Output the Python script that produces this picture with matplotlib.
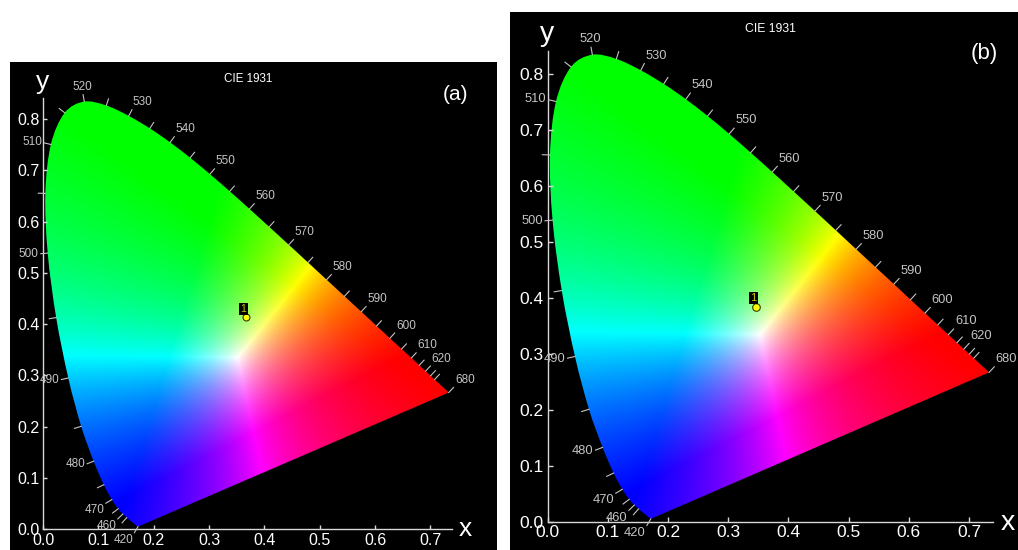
''' CIE 1931 chromaticity diagrams for the two samples.
'''
import numpy as np
import matplotlib
matplotlib.use('Agg')
import matplotlib.pyplot as plt
from matplotlib.path import Path
from matplotlib.patches import PathPatch

plt.rcParams['font.family'] = ['Liberation Sans', 'DejaVu Sans']

# CIE 1931 2 degree spectral locus, 420-680 nm in 5 nm steps
wavelengths = list(range(420, 685, 5))
locus_x = [0.1714, 0.1703, 0.1689, 0.1669, 0.1644, 0.1611, 0.1566, 0.1510,
           0.1440, 0.1355, 0.1241, 0.1096, 0.0913, 0.0687, 0.0454, 0.0235,
           0.0082, 0.0039, 0.0139, 0.0389, 0.0743, 0.1142, 0.1547, 0.1929,
           0.2296, 0.2658, 0.3016, 0.3373, 0.3731, 0.4087, 0.4441, 0.4788,
           0.5125, 0.5448, 0.5752, 0.6029, 0.6270, 0.6482, 0.6658, 0.6801,
           0.6915, 0.7006, 0.7079, 0.7140, 0.7190, 0.7230, 0.7260, 0.7283,
           0.7300, 0.7311, 0.7320, 0.7327, 0.7334]
locus_y = [0.0051, 0.0058, 0.0069, 0.0086, 0.0109, 0.0138, 0.0177, 0.0227,
           0.0297, 0.0399, 0.0578, 0.0868, 0.1327, 0.2007, 0.2950, 0.4127,
           0.5384, 0.6548, 0.7502, 0.8120, 0.8338, 0.8262, 0.8059, 0.7816,
           0.7543, 0.7243, 0.6923, 0.6589, 0.6245, 0.5896, 0.5547, 0.5202,
           0.4866, 0.4544, 0.4242, 0.3965, 0.3725, 0.3514, 0.3340, 0.3197,
           0.3083, 0.2993, 0.2920, 0.2859, 0.2809, 0.2770, 0.2740, 0.2717,
           0.2700, 0.2689, 0.2680, 0.2673, 0.2666]

labelled_nm = [420, 460, 470, 480, 490, 500, 510, 520, 530, 540, 550, 560,
               570, 580, 590, 600, 610, 620, 680]
ticked_nm = [420] + list(range(455, 635, 5)) + [680]

# sample chromaticity per panel
panel_names = ['(a)', '(b)']
sample_x = [0.366, 0.346]
sample_y = [0.413, 0.383]

xticks = [0.0, 0.1, 0.2, 0.3, 0.4, 0.5, 0.6, 0.7]
yticks = [0.0, 0.1, 0.2, 0.3, 0.4, 0.5, 0.6, 0.7, 0.8]

GREY = '#c4c4c4'


def gamut_image(nx=700, ny=700, white=(0.352, 0.334)):
    ''' RGB image of the chromaticity plane, brightest possible colour per point.
    '''
    prim = np.array([[0.64, 0.30, 0.15], [0.33, 0.60, 0.06]])
    P = np.vstack([prim, 1 - prim.sum(0)])
    w = np.array([white[0], white[1], 1 - white[0] - white[1]]) / white[1]
    M = P * np.linalg.solve(P, w)
    Minv = np.linalg.inv(M)

    xx, yy = np.meshgrid(np.linspace(0, 0.75, nx), np.linspace(0, 0.85, ny))
    xyz = np.stack([xx, yy, 1 - xx - yy], -1)
    rgb = np.clip(xyz @ Minv.T, 0, None)
    rgb /= np.maximum(rgb.max(-1, keepdims=True), 1e-9)
    return np.clip(rgb, 0, 1)


def locus_path():
    ''' Smooth closed outline through the locus points (Catmull-Rom as Bezier),
        closed by the straight line of purples.
    '''
    p = np.column_stack([locus_x, locus_y])
    ext = np.vstack([p[0], p, p[-1]])
    verts = [p[0]]
    codes = [Path.MOVETO]
    for i in range(len(p) - 1):
        p0, p1, p2, p3 = ext[i], ext[i + 1], ext[i + 2], ext[i + 3]
        verts += [p1 + (p2 - p0) / 6, p2 - (p3 - p1) / 6, p2]
        codes += [Path.CURVE4] * 3
    verts += [p[0], p[0]]
    codes += [Path.LINETO, Path.CLOSEPOLY]
    return Path(verts, codes)


def draw_panel(fig, rect, xlim, ylim, k, sx, sy, texts):
    ax = fig.add_axes(rect)
    ax.set_facecolor('black')
    ax.set_xlim(*xlim)
    ax.set_ylim(*ylim)

    for side in ['top', 'right']:
        ax.spines[side].set_visible(False)
    ax.spines['left'].set_position(('data', 0))
    ax.spines['bottom'].set_position(('data', 0))
    ax.spines['left'].set_bounds(0, 0.84)
    ax.spines['bottom'].set_bounds(0, 0.74)
    for side in ['left', 'bottom']:
        ax.spines[side].set_color('#d8d8d8')
        ax.spines[side].set_linewidth(1.0)

    ax.set_xticks(xticks)
    ax.set_yticks(yticks)
    ax.set_xticklabels(['%.1f' % v for v in xticks])
    ax.set_yticklabels(['%.1f' % v for v in yticks])
    ax.tick_params(direction='in', length=3 * k, width=1, color='#d8d8d8',
                   labelcolor='white', labelsize=11.5 * k, pad=2.5 * k)

    # coloured gamut clipped to the locus
    patch = PathPatch(locus_path(), transform=ax.transData, fc='none', ec='none')
    ax.add_patch(patch)
    im = ax.imshow(gamut_image(), origin='lower', extent=(0, 0.75, 0, 0.85),
                   interpolation='bilinear', aspect='auto', zorder=1)
    im.set_clip_path(patch)

    # wavelength ticks and labels, normal to the locus in pixel space
    pts = ax.transData.transform(np.column_stack([locus_x, locus_y]))
    inv = ax.transData.inverted()
    tick_len = 7 * k
    gap = 2 * k
    for nm in ticked_nm:
        i = wavelengths.index(nm)
        a = pts[max(i - 1, 0)]
        b = pts[min(i + 1, len(pts) - 1)]
        t = (b - a) / np.hypot(*(b - a))
        n = np.array([-t[1], t[0]])
        p0 = pts[i]
        p1 = p0 + n * tick_len
        d0, d1 = inv.transform([p0, p1])
        ax.plot([d0[0], d1[0]], [d0[1], d1[1]], color=GREY, lw=0.8, zorder=3)
        if nm in labelled_nm:
            ha = 'left' if n[0] > 0.3 else ('right' if n[0] < -0.3 else 'center')
            va = 'bottom' if n[1] > 0.45 else ('top' if n[1] < -0.45 else 'center')
            off = n * (tick_len + gap) * 0.72
            ax.annotate(str(nm), xy=(locus_x[i], locus_y[i]), xytext=off,
                        textcoords='offset points', ha=ha, va=va,
                        color=GREY, fontsize=8.5 * k, zorder=4)

    # sample point
    ax.plot(sx, sy, 'o', ms=5 * k, mfc='#ffff00', mec='#3a3a00', mew=0.8, zorder=5)
    ax.annotate('1', xy=(sx, sy), xytext=(-1.5 * k, 6 * k), textcoords='offset points',
                ha='center', va='center', color='#c8c800', fontsize=7.5 * k,
                zorder=6, bbox=dict(boxstyle='square,pad=0.12', fc='black', ec='none'))

    # axis names and captions, placed in figure pixels
    W, H = fig.get_size_inches() * fig.dpi
    for s, (px, py), fs in texts:
        fig.text(px / W, 1 - py / H, s, color='white', fontsize=fs,
                 ha='center', va='center')
    return ax


def main():
    fig = plt.figure(figsize=(10.18, 5.5), dpi=100)
    fig.patch.set_facecolor('white')

    draw_panel(fig, [10 / 1018, 0, 487 / 1018, 488 / 550],
               (-0.060, 0.8206), (-0.0404, 0.911), 1.0,
               sample_x[0], sample_y[0],
               [('y', (43, 82), 19), ('x', (465, 529), 19),
                ('CIE 1931', (248, 78.5), 8.4), (panel_names[0], (455, 95), 15)])

    draw_panel(fig, [510 / 1018, 0, 508 / 1018, 538 / 550],
               (-0.0625, 0.7814), (-0.0505, 0.910), 1.09,
               sample_x[1], sample_y[1],
               [('y', (547, 34), 20.5), ('x', (1008, 523), 20.5),
                ('CIE 1931', (770, 28.5), 8.8), (panel_names[1], (984, 53), 16)])

    fig.savefig('out.png', dpi=100, facecolor=fig.get_facecolor())


if __name__ == '__main__':
    main()
